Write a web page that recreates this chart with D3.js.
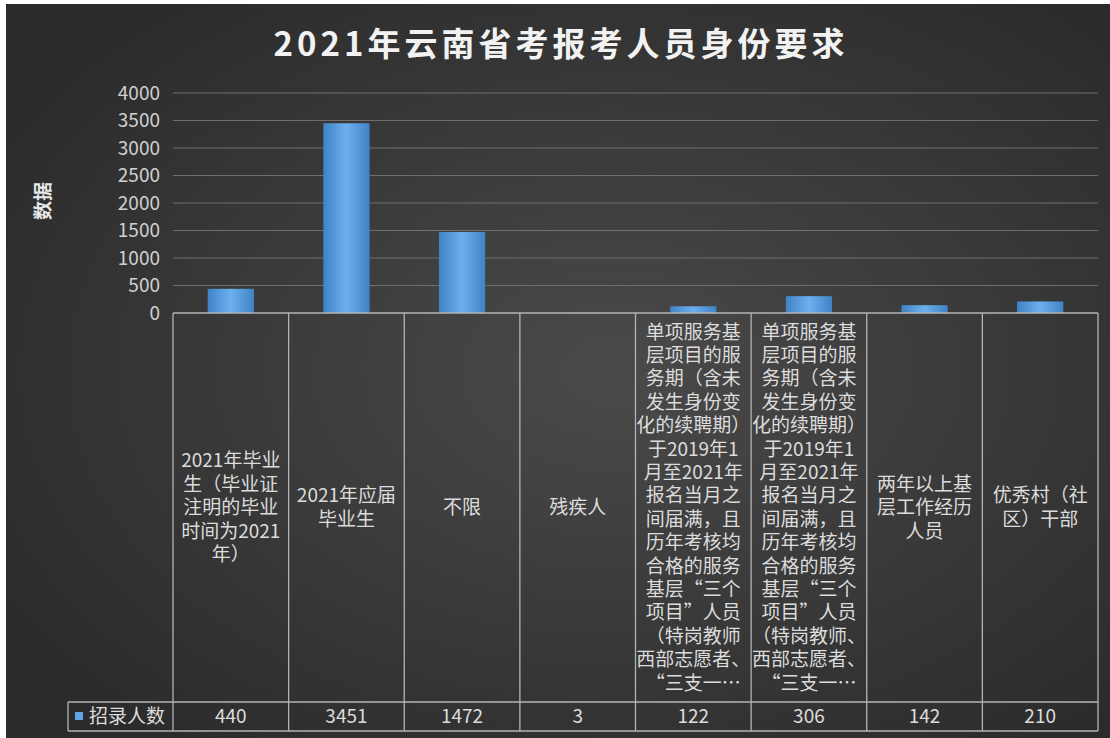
<!DOCTYPE html>
<html>
<head>
<meta charset="utf-8">
<script src="https://cdn.jsdelivr.net/npm/d3@7"></script>
<style>
  html, body { margin: 0; padding: 0; background: #fff; }
  svg { display: block; }
  text { font-family: "Noto Sans CJK SC", "Noto Sans", sans-serif; }
</style>
</head>
<body>
<div id="chart"></div>
<script>
// data
const categories = [
  "2021年毕业\n生（毕业证\n注明的毕业\n时间为2021\n年）",
  "2021年应届\n毕业生",
  "不限",
  "残疾人",
  "单项服务基\n层项目的服\n务期（含未\n发生身份变\n化的续聘期）\n于2019年1\n月至2021年\n报名当月之\n间届满，且\n历年考核均\n合格的服务\n基层“三个\n项目”人员\n（特岗教师\n西部志愿者、\n“三支一…",
  "单项服务基\n层项目的服\n务期（含未\n发生身份变\n化的续聘期）\n于2019年1\n月至2021年\n报名当月之\n间届满，且\n历年考核均\n合格的服务\n基层“三个\n项目”人员\n（特岗教师、\n西部志愿者、\n“三支一…",
  "两年以上基\n层工作经历\n人员",
  "优秀村（社\n区）干部"
];
const values = [440, 3451, 1472, 3, 122, 306, 142, 210];
const yTicks = [0, 500, 1000, 1500, 2000, 2500, 3000, 3500, 4000];
const seriesName = "招录人数";

const W = 1110, H = 738;
const plot = { left: 173, right: 1098, top: 93, bottom: 313 };
const tableBottom = 731, valueRowTop = 702, legendLeft = 68;

const svg = d3.select("#chart").append("svg")
  .attr("width", W).attr("height", H);

const defs = svg.append("defs");
const bg = defs.append("radialGradient").attr("id", "bg")
  .attr("cx", "55%").attr("cy", "50%").attr("r", "65%");
bg.append("stop").attr("offset", "0%").attr("stop-color", "#4a4a4a");
bg.append("stop").attr("offset", "100%").attr("stop-color", "#2b2b2b");

const barGrad = defs.append("linearGradient").attr("id", "bar")
  .attr("x1", "0%").attr("x2", "100%").attr("y1", "0%").attr("y2", "0%");
barGrad.append("stop").attr("offset", "0%").attr("stop-color", "#3f83c6");
barGrad.append("stop").attr("offset", "50%").attr("stop-color", "#6cb0ee");
barGrad.append("stop").attr("offset", "100%").attr("stop-color", "#3f83c6");

// background (thin white margin top-left like the screenshot)
svg.append("rect").attr("x", 6).attr("y", 4)
  .attr("width", W - 6).attr("height", H - 4)
  .attr("fill", "url(#bg)");

// title
svg.append("text")
  .attr("x", 561).attr("y", 56)
  .attr("text-anchor", "middle")
  .style("font-size", "33px")
  .style("font-weight", "bold")
  .style("letter-spacing", "4px")
  .attr("fill", "#f2f2f2")
  .text("2021年云南省考报考人员身份要求");

// scales
const x = d3.scaleBand()
  .domain(d3.range(categories.length))
  .range([plot.left, plot.right]);

const y = d3.scaleLinear()
  .domain([0, 4000])
  .range([plot.bottom, plot.top]);

// gridlines
svg.append("g")
  .selectAll("line")
  .data(yTicks.filter(d => d > 0))
  .join("line")
  .attr("x1", plot.left).attr("x2", plot.right)
  .attr("y1", d => y(d)).attr("y2", d => y(d))
  .attr("stroke", "#6e6e6e")
  .attr("stroke-width", 1);

// y axis
const yAxis = svg.append("g")
  .attr("transform", `translate(${plot.left}, 0)`)
  .call(d3.axisLeft(y).tickValues(yTicks).tickFormat(d3.format("d")).tickSize(0).tickPadding(13));
yAxis.select(".domain").remove();
yAxis.selectAll("text")
  .style("font-size", "19px")
  .style("font-family", "'Noto Sans CJK SC', sans-serif")
  .attr("fill", "#d0d0d0");

// y axis label
svg.append("text")
  .attr("transform", "translate(50, 201) rotate(-90)")
  .attr("text-anchor", "middle")
  .style("font-size", "19px")
  .style("font-weight", "bold")
  .attr("fill", "#e8e8e8")
  .text("数据");

// bars
const barW = x.bandwidth() * 0.4;
svg.append("g")
  .selectAll("rect")
  .data(values)
  .join("rect")
  .attr("x", (d, i) => x(i) + (x.bandwidth() - barW) / 2)
  .attr("y", d => y(d))
  .attr("width", barW)
  .attr("height", d => y(0) - y(d))
  .attr("fill", "url(#bar)");

// data table
const lineColor = "#b4b4b4";
const table = svg.append("g")
  .attr("stroke", lineColor)
  .attr("stroke-width", 1.3)
  .attr("fill", "none");

// horizontal lines
table.append("line")
  .attr("x1", plot.left).attr("x2", plot.right)
  .attr("y1", y(0)).attr("y2", y(0));
table.append("line")
  .attr("x1", legendLeft).attr("x2", plot.right)
  .attr("y1", valueRowTop).attr("y2", valueRowTop);
table.append("line")
  .attr("x1", legendLeft).attr("x2", plot.right)
  .attr("y1", tableBottom).attr("y2", tableBottom);
table.append("line")
  .attr("x1", legendLeft).attr("x2", legendLeft)
  .attr("y1", valueRowTop).attr("y2", tableBottom);

// vertical lines at column boundaries
const bounds = d3.range(categories.length + 1).map(i => i < categories.length ? x(i) : plot.right);
table.selectAll(".vline")
  .data(bounds)
  .join("line")
  .attr("class", "vline")
  .attr("x1", d => d).attr("x2", d => d)
  .attr("y1", y(0)).attr("y2", tableBottom);

// category labels
const lineH = 23.4;
const rowMid = (y(0) + valueRowTop) / 2;
const cat = svg.append("g")
  .selectAll("text")
  .data(categories)
  .join("text")
  .attr("text-anchor", "middle")
  .style("font-size", "19px")
  .attr("fill", "#dcdcdc");

cat.each(function(d, i) {
  const lines = d.split("\n");
  const start = rowMid - (lines.length - 1) * lineH / 2;
  d3.select(this).selectAll("tspan")
    .data(lines)
    .join("tspan")
    .attr("x", x(i) + x.bandwidth() / 2)
    .attr("y", (l, j) => start + j * lineH)
    .attr("dy", "0.35em")
    .text(l => l);
});

// value row
svg.append("g")
  .selectAll("text")
  .data(values)
  .join("text")
  .attr("x", (d, i) => x(i) + x.bandwidth() / 2)
  .attr("y", (valueRowTop + tableBottom) / 2)
  .attr("dy", "0.35em")
  .attr("text-anchor", "middle")
  .style("font-size", "19px")
  .attr("fill", "#dcdcdc")
  .text(d => d);

// legend key in the table
svg.append("rect")
  .attr("x", 75).attr("y", 712)
  .attr("width", 8).attr("height", 8)
  .attr("fill", "#5ea5e8");
svg.append("text")
  .attr("x", 89).attr("y", (valueRowTop + tableBottom) / 2)
  .attr("dy", "0.35em")
  .style("font-size", "19px")
  .attr("fill", "#dcdcdc")
  .text(seriesName);
</script>
</body>
</html>
